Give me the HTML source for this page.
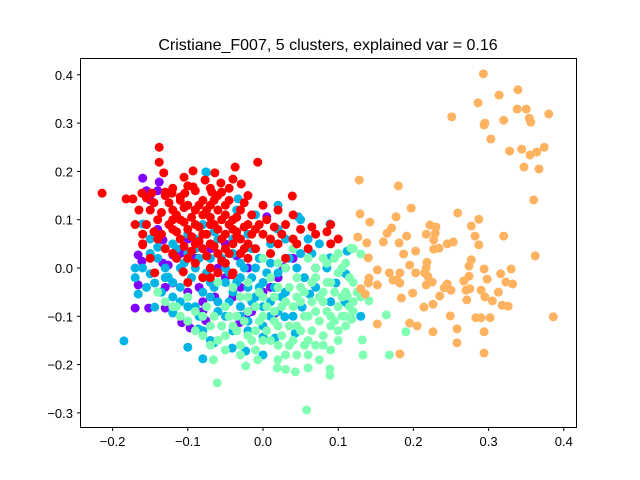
<!DOCTYPE html>
<html><head><meta charset="utf-8"><style>
body{margin:0;background:#fff;width:640px;height:480px;overflow:hidden}
svg{display:block}
text{font-family:"Liberation Sans","DejaVu Sans",sans-serif}
</style></head><body>
<svg id="chart" width="640" height="480">
<rect width="640" height="480" fill="#fff"/>
<text x="328" y="50" text-anchor="middle" font-size="16">Cristiane_F007, 5 clusters, explained var = 0.16</text>
<g id="points"></g>
<rect x="80.5" y="58.5" width="496" height="369" fill="none" stroke="#000" stroke-width="1"/>
<g id="xt"></g>
<g id="yt"></g>
</svg>
<script>
const xTicks=[-0.2,-0.1,0.0,0.1,0.2,0.3,0.4];
const xTickLabels=["−0.2","−0.1","0.0","0.1","0.2","0.3","0.4"];
const yTicks=[-0.3,-0.2,-0.1,0.0,0.1,0.2,0.3,0.4];
const yTickLabels=["−0.3","−0.2","−0.1","0.0","0.1","0.2","0.3","0.4"];
const clusterColors=["#8000ff","#00b4e6","#80ffb4","#ffb360","#ff0000"];
const purple=[[-0.160,0.186],[-0.138,0.178],[-0.150,0.141],[-0.166,0.027],[-0.161,0.014],[-0.166,-0.035],[-0.170,-0.083],[-0.152,-0.083],[-0.130,-0.083],[-0.108,-0.113],[-0.097,-0.124],[-0.076,-0.109],[-0.031,-0.113],[-0.021,-0.094],[0.014,-0.097],[0.027,0.002],[0.005,0.106],[-0.133,0.010],[-0.126,0.006],[-0.120,0.027],[-0.133,0.058],[-0.120,-0.031],[-0.064,-0.060],[-0.09,0.02],[-0.07,0.04],[-0.05,-0.02],[-0.03,-0.04],[-0.10,-0.05],[-0.08,-0.07],[0.00,-0.05],[-0.05,0.05],[0.07,0.0],[0.02,-0.02],[-0.11,0.03],[-0.085,-0.04],[-0.06,0.0],[-0.04,-0.06],[-0.02,0.0],[-0.015,-0.09],[0.01,-0.04],[-0.13,-0.04],[-0.14,0.08],[-0.155,0.16],[-0.14,0.16],[-0.1,0.06],[-0.08,-0.09],[0.04,0.02],[-0.035,0.025]];
const blue=[[-0.185,-0.151],[-0.100,-0.164],[-0.080,-0.188],[-0.170,0.0],[-0.166,-0.054],[-0.160,0.091],[-0.076,0.199],[0.020,0.130],[0.047,0.106],[0.089,0.091],[0.112,0.035],[0.110,-0.012],[0.097,-0.031],[0.062,-0.054],[0.114,-0.077],[-0.033,0.143],[0.019,0.081],[0.089,0.021],[-0.150,-0.012],[-0.144,-0.031],[-0.140,0.043],[-0.126,-0.019],[-0.144,-0.081],[-0.120,-0.093],[-0.086,-0.126],[-0.065,-0.155],[-0.041,-0.166],[-0.023,-0.172],[0.016,-0.145],[0.000,-0.143],[0.043,-0.135],[0.052,-0.081],[0.029,-0.101],[-0.10,0.03],[-0.09,0.0],[-0.08,-0.02],[-0.07,-0.03],[-0.06,-0.01],[-0.05,-0.03],[-0.04,-0.05],[-0.03,-0.02],[-0.02,-0.04],[-0.01,-0.06],[0.00,-0.03],[0.01,-0.07],[0.02,-0.09],[-0.08,-0.05],[-0.11,-0.04],[-0.12,-0.06],[-0.09,-0.08],[-0.06,-0.07],[-0.05,-0.10],[-0.03,-0.08],[-0.02,-0.11],[-0.07,0.02],[-0.05,0.0],[-0.03,0.01],[-0.01,0.00],[0.01,0.01],[0.03,0.00],[0.05,0.03],[0.06,0.06],[0.04,0.04],[-0.10,0.07],[-0.08,0.09],[-0.06,0.06],[-0.04,0.03],[-0.02,0.07],[-0.09,0.04],[-0.13,-0.02],[-0.12,-0.09],[-0.10,-0.11],[-0.08,-0.13],[-0.04,-0.13],[0.00,-0.12],[0.04,-0.10],[0.03,-0.05],[0.07,-0.04],[0.09,-0.07],[-0.01,0.11],[0.02,0.08],[0.05,0.10],[-0.15,0.03],[-0.17,-0.02],[-0.11,0.00],[0.13,-0.10],[0.0,-0.18],[0.109,-0.07],[-0.075,0.198],[-0.035,0.12],[-0.15,0.06],[-0.14,0.02],[-0.13,0.0],[-0.12,-0.03],[-0.115,0.04],[-0.105,0.01],[-0.095,-0.02],[-0.085,0.02],[-0.075,-0.01],[-0.065,-0.04],[-0.055,0.02],[-0.045,-0.01],[-0.035,-0.03],[-0.025,0.0],[-0.015,-0.02],[-0.005,-0.04],[0.005,-0.01],[0.015,-0.04],[0.025,-0.06],[0.035,0.02],[0.045,0.0],[0.055,-0.02],[0.065,0.03],[0.075,0.05],[0.085,0.0],[-0.1,-0.08],[-0.085,-0.1],[-0.07,-0.06],[-0.06,-0.09],[-0.045,-0.07],[-0.03,-0.10],[-0.015,-0.07],[0.0,-0.08],[0.01,-0.10],[-0.055,-0.12],[-0.07,-0.15],[-0.02,-0.13],[-0.11,-0.07],[-0.135,-0.05],[-0.155,-0.04],[-0.16,0.0],[-0.12,0.05],[-0.09,0.06],[-0.065,0.075],[-0.04,0.06],[-0.015,0.04],[0.01,0.05],[0.03,0.06],[-0.005,0.02],[0.02,-0.01]];
const green=[[-0.061,-0.238],[0.058,-0.294],[-0.066,-0.190],[-0.023,-0.203],[-0.007,-0.190],[0.019,-0.207],[0.043,-0.215],[0.060,-0.207],[0.089,-0.222],[0.089,-0.209],[0.132,-0.149],[0.133,-0.180],[0.168,-0.180],[0.190,-0.132],[0.164,-0.097],[0.141,-0.068],[0.118,-0.106],[0.117,0.041],[0.130,0.029],[0.112,-0.058],[-0.13,-0.07],[-0.11,-0.10],[-0.10,-0.06],[-0.08,-0.10],[-0.07,-0.12],[-0.06,-0.15],[-0.05,-0.08],[-0.04,-0.12],[-0.03,-0.16],[-0.02,-0.09],[-0.01,-0.13],[0.00,-0.10],[0.01,-0.15],[0.02,-0.12],[0.03,-0.18],[0.04,-0.08],[0.05,-0.13],[0.06,-0.10],[0.07,-0.16],[0.08,-0.07],[0.09,-0.12],[0.10,-0.08],[0.11,-0.05],[0.12,-0.03],[0.10,0.03],[0.08,0.02],[0.07,-0.02],[0.05,-0.04],[0.03,0.00],[0.04,0.04],[0.06,0.02],[0.02,-0.04],[0.00,-0.06],[-0.02,-0.03],[-0.04,-0.04],[-0.06,-0.03],[-0.03,-0.06],[0.01,-0.02],[0.03,-0.07],[0.05,-0.07],[0.07,-0.09],[0.09,-0.03],[0.11,-0.10],[0.08,-0.14],[0.06,-0.18],[0.02,-0.19],[-0.01,-0.17],[0.04,-0.15],[-0.02,-0.14],[-0.05,-0.14],[-0.08,-0.14],[-0.09,-0.13],[0.12,-0.09],[0.10,-0.13],[0.13,-0.06],[0.11,0.01],[0.12,0.04],[0.02,0.01],[0.00,0.02],[-0.01,-0.08],[0.07,0.00],[0.09,-0.10],[0.035,-0.12],[-0.035,-0.10],[0.015,-0.09],[0.055,-0.16],[0.09,-0.17],[-0.115,-0.08],[-0.14,-0.05],[0.03,-0.21],[0.08,-0.05],[0.10,-0.01],[0.12,-0.07],[-0.09,-0.09],[-0.075,-0.08],[-0.065,-0.1],[-0.055,-0.12],[-0.045,-0.1],[-0.035,-0.13],[-0.025,-0.11],[-0.015,-0.15],[-0.005,-0.11],[0.005,-0.13],[0.015,-0.11],[0.025,-0.14],[0.035,-0.16],[0.045,-0.12],[0.055,-0.1],[0.065,-0.13],[0.075,-0.11],[0.085,-0.09],[0.095,-0.11],[0.105,-0.1],[0.115,-0.08],[0.125,-0.05],[0.105,-0.06],[0.095,-0.05],[0.085,-0.03],[0.075,-0.06],[0.065,-0.07],[0.055,-0.05],[0.045,-0.06],[0.035,-0.04],[0.025,-0.08],[0.015,-0.06],[0.005,-0.08],[-0.005,-0.05],[-0.02,-0.06],[0.045,-0.02],[0.065,-0.03],[0.085,0.01],[0.095,0.02],[0.105,0.0],[0.115,-0.02],[0.02,-0.16],[0.0,-0.15],[-0.03,-0.18],[-0.05,-0.17],[-0.07,-0.16],[0.045,-0.18],[0.075,-0.19],[0.06,-0.15],[0.08,-0.16],[0.1,-0.15],[0.11,-0.12],[-0.1,-0.11],[-0.12,-0.08]];
const orange=[[0.293,0.402],[0.339,0.369],[0.314,0.358],[0.286,0.342],[0.338,0.329],[0.350,0.329],[0.380,0.319],[0.251,0.313],[0.354,0.31],[0.356,0.302],[0.320,0.306],[0.295,0.30],[0.294,0.296],[0.303,0.267],[0.328,0.242],[0.344,0.246],[0.374,0.25],[0.364,0.240],[0.355,0.234],[0.347,0.209],[0.367,0.205],[0.360,0.141],[0.128,0.182],[0.180,0.170],[0.197,0.124],[0.259,0.114],[0.287,0.101],[0.129,0.112],[0.142,0.095],[0.177,0.106],[0.171,0.083],[0.165,0.072],[0.160,0.054],[0.126,0.064],[0.138,0.052],[0.181,0.052],[0.191,0.066],[0.222,0.089],[0.230,0.085],[0.229,0.072],[0.217,0.070],[0.227,0.058],[0.277,0.087],[0.282,0.066],[0.287,0.048],[0.320,0.066],[0.253,0.054],[0.245,0.050],[0.234,0.041],[0.227,0.039],[0.187,0.029],[0.203,0.035],[0.140,0.021],[0.362,0.025],[0.218,0.012],[0.217,0],[0.215,-0.01],[0.219,-0.017],[0.225,-0.029],[0.217,-0.035],[0.195,0.006],[0.203,-0.010],[0.152,-0.004],[0.277,0.017],[0.274,0.004],[0.274,-0.017],[0.267,-0.027],[0.294,-0.002],[0.298,-0.023],[0.316,-0.012],[0.330,-0.002],[0.168,-0.01],[0.173,-0.025],[0.182,-0.01],[0.182,-0.031],[0.178,-0.025],[0.141,-0.021],[0.140,-0.031],[0.152,-0.035],[0.130,-0.043],[0.136,-0.054],[0.184,-0.062],[0.199,-0.052],[0.245,-0.033],[0.241,-0.041],[0.250,-0.046],[0.235,-0.058],[0.270,-0.046],[0.275,-0.043],[0.271,-0.066],[0.290,-0.046],[0.295,-0.060],[0.305,-0.068],[0.313,-0.050],[0.323,-0.029],[0.332,-0.033],[0.318,-0.077],[0.326,-0.079],[0.214,-0.081],[0.226,-0.075],[0.249,-0.099],[0.283,-0.103],[0.290,-0.103],[0.302,-0.103],[0.386,-0.101],[0.152,-0.116],[0.195,-0.114],[0.205,-0.120],[0.226,-0.132],[0.258,-0.126],[0.294,-0.132],[0.258,-0.155],[0.294,-0.176],[0.182,-0.178]];
const red=[[-0.138,0.250],[-0.138,0.219],[-0.214,0.155],[-0.182,0.143],[-0.173,0.143],[-0.161,0.155],[-0.148,0.155],[-0.132,0.197],[-0.105,0.188],[-0.093,0.201],[-0.037,0.209],[-0.007,0.219],[-0.064,0.197],[-0.077,0.182],[-0.056,0.176],[-0.040,0.184],[-0.029,0.174],[-0.093,0.168],[-0.068,0.157],[-0.055,0.157],[0.039,0.149],[-0.130,0.157],[-0.121,0.155],[-0.110,0.147],[-0.104,0.155],[-0.15,0.12],[-0.14,0.10],[-0.12,0.12],[-0.11,0.10],[-0.10,0.13],[-0.09,0.12],[-0.08,0.11],[-0.07,0.13],[-0.06,0.12],[-0.05,0.11],[-0.04,0.10],[-0.03,0.12],[-0.02,0.09],[-0.01,0.08],[0.00,0.07],[-0.12,0.08],[-0.10,0.08],[-0.09,0.09],[-0.08,0.07],[-0.07,0.09],[-0.06,0.08],[-0.05,0.07],[-0.04,0.08],[-0.03,0.06],[-0.02,0.05],[-0.11,0.06],[-0.09,0.05],[-0.08,0.04],[-0.07,0.05],[-0.06,0.03],[-0.05,0.04],[-0.04,0.05],[-0.03,0.03],[-0.13,0.04],[-0.12,0.03],[-0.14,0.06],[-0.16,0.05],[-0.15,0.02],[-0.10,0.02],[-0.09,0.01],[-0.07,0.00],[-0.05,0.01],[-0.04,-0.01],[-0.02,0.02],[-0.01,0.04],[0.01,0.06],[0.02,0.05],[0.03,0.09],[0.05,0.08],[0.07,0.07],[0.09,0.09],[0.10,0.06],[0.03,0.02],[0.04,0.06],[-0.08,-0.02],[-0.06,-0.01],[-0.10,-0.03],[-0.07,-0.02],[-0.13,0.15],[-0.11,0.14],[-0.09,0.16],[-0.06,0.15],[-0.05,0.13],[-0.08,0.14],[-0.12,0.10],[-0.155,0.09],[-0.145,0.075],[-0.07,0.105],[-0.035,0.075],[0.01,0.03],[0.04,0.11],[0.09,0.05],[-0.160,0.048],[-0.144,-0.010],[-0.106,-0.008],[-0.041,-0.014],[-0.145,0.135],[-0.125,0.135],[-0.105,0.125],[-0.085,0.13],[-0.065,0.14],[-0.045,0.14],[-0.025,0.135],[-0.135,0.115],[-0.115,0.11],[-0.095,0.105],[-0.075,0.12],[-0.055,0.10],[-0.035,0.105],[-0.015,0.11],[0.005,0.10],[-0.125,0.09],[-0.105,0.095],[-0.085,0.085],[-0.065,0.09],[-0.045,0.09],[-0.025,0.085],[-0.005,0.09],[0.015,0.085],[-0.135,0.07],[-0.115,0.075],[-0.095,0.065],[-0.075,0.07],[-0.055,0.06],[-0.035,0.065],[-0.015,0.07],[-0.105,0.045],[-0.085,0.055],[-0.065,0.045],[-0.045,0.03],[-0.025,0.04],[-0.115,0.02],[-0.075,0.025],[-0.055,0.015],[-0.095,0.035],[0.025,0.07],[0.045,0.05],[0.065,0.085],[0.085,0.075],[0.06,0.04],[-0.17,0.09],[-0.165,0.12],[-0.16,0.07],[-0.155,0.145],[-0.12,0.165],[-0.1,0.17],[-0.07,0.165],[-0.045,0.165],[-0.02,0.15],[0.0,0.13],[0.02,0.12]];
const xScale=v=>263+v*752;
const yScale=v=>268-v*483;
const NS="http://www.w3.org/2000/svg";
const pts=document.getElementById('points');
const series=[["purple",purple],["blue",blue],["green",green],["orange",orange],["red",red]];
series.forEach(([name,arr],ci)=>{
  const g=document.createElementNS(NS,'g');
  
  
  arr.forEach(p=>{
    const c=document.createElementNS(NS,'circle');
    c.setAttribute('cx',xScale(p[0]));
    c.setAttribute('cy',yScale(p[1]));
    c.setAttribute('r',4.5);
    c.setAttribute('fill',clusterColors[ci]);
    
    
    g.appendChild(c);
  });
  pts.appendChild(g);
});
const xt=document.getElementById('xt');
xTicks.forEach((v,i)=>{
  const x=xScale(v);
  const l=document.createElementNS(NS,'line');
  l.setAttribute('x1',x);l.setAttribute('x2',x);l.setAttribute('y1',427.5);l.setAttribute('y2',431);
  l.setAttribute('stroke','#000');
  
  
  xt.appendChild(l);
  const t=document.createElementNS(NS,'text');
  t.setAttribute('x',x);t.setAttribute('y',446);t.setAttribute('text-anchor','middle');t.setAttribute('font-size','13');
  t.textContent=xTickLabels[i];
  
  
  xt.appendChild(t);
});
const yt=document.getElementById('yt');
yTicks.forEach((v,i)=>{
  const y=yScale(v);
  const l=document.createElementNS(NS,'line');
  l.setAttribute('x1',77);l.setAttribute('x2',80.5);l.setAttribute('y1',y);l.setAttribute('y2',y);
  l.setAttribute('stroke','#000');
  
  
  yt.appendChild(l);
  const t=document.createElementNS(NS,'text');
  t.setAttribute('x',73);t.setAttribute('y',y+5);t.setAttribute('text-anchor','end');t.setAttribute('font-size','13');
  t.textContent=yTickLabels[i];
  
  
  yt.appendChild(t);
});
</script>
</body></html>
